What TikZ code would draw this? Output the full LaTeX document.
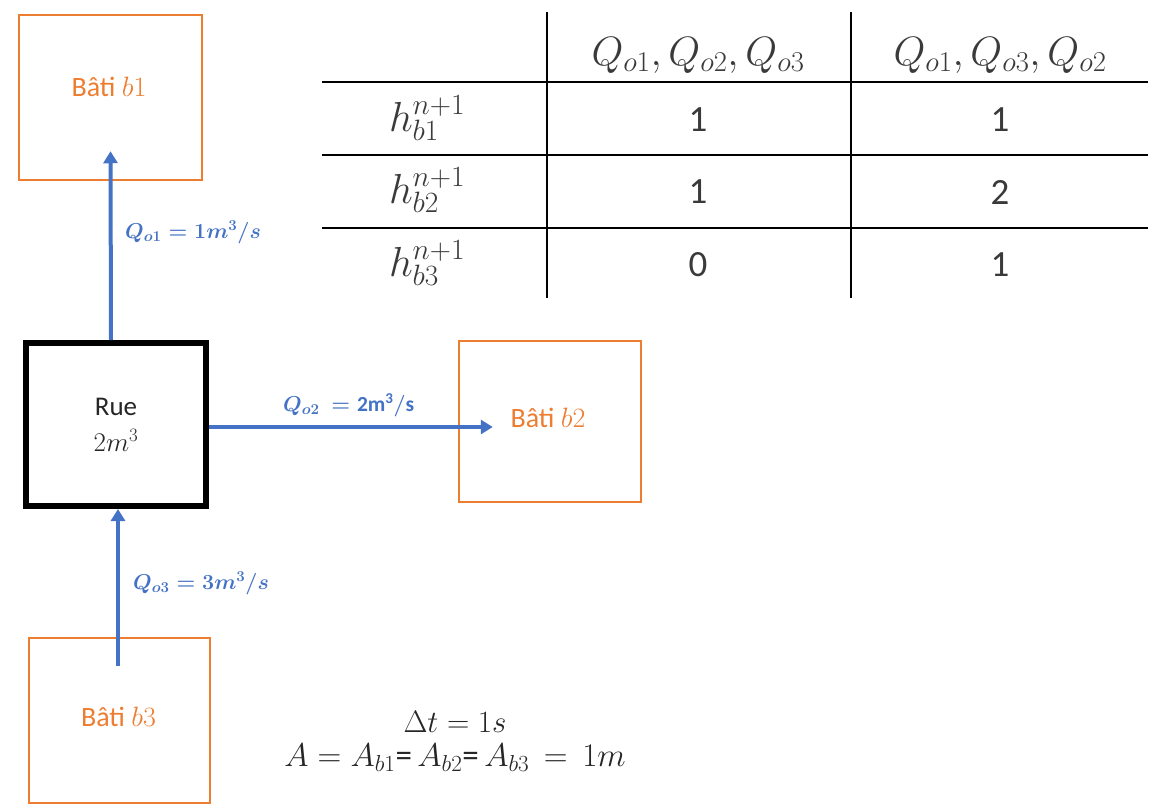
\RequirePackage{fix-cm}
\documentclass[tikz,border=0pt]{standalone}
\usepackage{fontspec}
\setmainfont{Carlito}
\usepackage{amsmath}
\usetikzlibrary{arrows.meta}
\definecolor{obrd}{HTML}{ED7D31}
\definecolor{bflow}{HTML}{4472C4}
\definecolor{tgray}{HTML}{3A3A3A}
\tikzset{
  bati/.style={draw=obrd, line width=2.5pt, minimum width=181pt, minimum height=163pt, inner sep=0pt},
  btext/.style={text=obrd, font=\fontsize{28}{32}\selectfont},
  ruebox/.style={draw=black, line width=6pt, minimum width=180pt, minimum height=163pt, align=center, font=\fontsize{27}{36}\selectfont, text=black!85},
  flow/.style={draw=bflow, line width=4pt, -{Triangle[width=14pt,length=12pt]}},
  qlab/.style={text=bflow, font=\fontsize{21.5}{24}\selectfont\boldmath, inner sep=0pt},
  tline/.style={draw=black, line width=2.2pt},
  tcell/.style={text=tgray, font=\fontsize{37}{44}\selectfont, inner sep=0pt},
  thead/.style={text=tgray, font=\fontsize{41}{48}\selectfont, inner sep=0pt},
  trow/.style={text=tgray, font=\fontsize{42}{48}\selectfont, inner sep=0pt, text height=28pt, text depth=12pt, anchor=base},
  note/.style={text=black!85, font=\fontsize{31}{36}\selectfont, align=center, inner sep=0pt}
}
\begin{document}
\begin{tikzpicture}[x=1pt,y=-1pt]
\useasboundingbox (0,0) rectangle (1153,806);
% boxes
\node[bati, minimum width=183pt, minimum height=165pt] (b1) at (110.5,97.5) {};
\node[btext] (b1t) at (109,87) {Bâti $b1$};
\node[ruebox] (rue) at (116,424.5) {Rue\\$2m^3$};
\node[bati, minimum width=182pt, minimum height=161pt] (b2) at (550,421.5) {};
\node[btext] (b2t) at (548,418) {Bâti $b2$};
\node[bati, minimum width=181pt, minimum height=165pt] (b3) at (119.5,720.5) {};
\node[btext] (b3t) at (118.5,717) {Bâti $b3$};
% flows
\draw[flow] ([xshift=-5pt]rue.north) -- ([yshift=30pt]b1.south);
\draw[flow] ([yshift=-2.5pt]rue.east) -- ([yshift=-5.5pt,xshift=35pt]b2.west);
\draw[flow] ([xshift=-1.5pt,yshift=-29pt]b3.north) -- ([xshift=2pt]rue.south);
\node[qlab, anchor=west] (q1) at (125,232) {$Q_{o1} = 1m^3/s$};
\node[qlab, anchor=west] (q2) at (283,405) {$Q_{o2}\ = \mathrm{2m^3/s}$};
\node[qlab, anchor=west] (q3) at (133,583) {$Q_{o3} = 3m^3/s$};
% table
\coordinate (tl1) at (322,82); \coordinate (tr1) at (1148,82);
\coordinate (tl2) at (322,155); \coordinate (tr2) at (1148,155);
\coordinate (tl3) at (322,228); \coordinate (tr3) at (1148,228);
\coordinate (v1t) at (547,12); \coordinate (v1b) at (547,298);
\coordinate (v2t) at (851,12); \coordinate (v2b) at (851,298);
\draw[tline] (tl1) -- (tr1);
\draw[tline] (tl2) -- (tr2);
\draw[tline] (tl3) -- (tr3);
\draw[tline] (v1t) -- (v1b);
\draw[tline] (v2t) -- (v2b);
\node[thead] (h1) at (698,55) {$Q_{o1}, Q_{o2}, Q_{o3}$};
\node[thead] (h2) at (1000,55) {$Q_{o1}, Q_{o3}, Q_{o2}$};
\node[trow] (r1) at (427,131) {$h_{b1}^{n+1}$};
\node[trow] (r2) at (427,203) {$h_{b2}^{n+1}$};
\node[trow] (r3) at (427,276) {$h_{b3}^{n+1}$};
\node[tcell] (c11) at (698,120) {1};
\node[tcell] (c12) at (1000,120) {1};
\node[tcell] (c21) at (698,192) {1};
\node[tcell] (c22) at (1000,192) {2};
\node[tcell] (c31) at (698,265) {0};
\node[tcell] (c32) at (1000,265) {1};
% notes
\node[note] (dt) at (455,722) {$\Delta t = 1s$};
\node[note, font=\fontsize{33}{36}\selectfont] (aa) at (455,758) {$A = A_{b1}\text{=}\,A_{b2}\text{=}\,A_{b3} \,=\, 1m$};
\end{tikzpicture}
\end{document}
